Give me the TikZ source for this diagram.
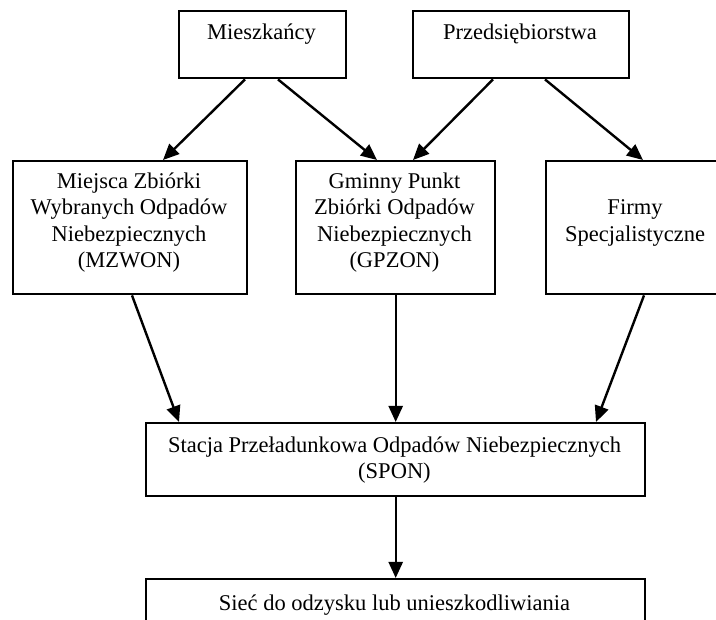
\documentclass[tikz,border=0pt]{standalone}
\usepackage{fontspec}
\setmainfont{Liberation Serif}
\usetikzlibrary{arrows.meta,calc}
\begin{document}
\begin{tikzpicture}[x=1pt,y=-1pt,
  box/.style={draw,line width=2.4pt,inner sep=0pt,anchor=north west},
  lbl/.style={font=\fontsize{22.5}{26.6}\selectfont,align=center,anchor=base,inner sep=0pt},
  arr/.style={line width=2.4pt,-{Triangle[length=16pt,width=14pt]}}]
\clip (0,0) rectangle (716,620);
\fill[white] (0,0) rectangle (716,620);
% boxes
\node[box,minimum width=167pt,minimum height=67pt] (mie) at (178,10) {};
\node[box,minimum width=216pt,minimum height=67pt] (prz) at (412,10) {};
\node[box,minimum width=234pt,minimum height=133pt] (mzw) at (12,160) {};
\node[box,minimum width=199pt,minimum height=133pt] (gpz) at (295,160) {};
\node[box,minimum width=180pt,minimum height=133pt] (fir) at (545,160) {};
\node[box,minimum width=499pt,minimum height=73pt] (spo) at (145,422) {};
\node[box,minimum width=499pt,minimum height=70pt] (sie) at (145,578) {};
% texts (anchor = baseline of the last line)
\node[lbl] (mieT) at (261.5,40) {Mieszkańcy};
\node[lbl] (przT) at (520,40) {Przedsiębiorstwa};
\node[lbl] (mzwT) at (129,268) {Miejsca Zbiórki\\Wybranych Odpadów\\Niebezpiecznych\\(MZWON)};
\node[lbl] (gpzT) at (394.5,268) {Gminny Punkt\\Zbiórki Odpadów\\Niebezpiecznych\\(GPZON)};
\node[lbl] (firT) at (635,241.6) {Firmy\\Specjalistyczne};
\node[lbl] (spoT) at (394.5,479) {Stacja Przeładunkowa Odpadów Niebezpiecznych\\(SPON)};
\node[lbl] (sieT) at (394.5,611) {Sieć do odzysku lub unieszkodliwiania};
% arrows
\draw[arr] ([xshift=67pt]mie.south west) -- ([xshift=151pt]mzw.north west);
\draw[arr] ([xshift=100pt]mie.south west) -- ([xshift=82pt]gpz.north west);
\draw[arr] ([xshift=81pt]prz.south west) -- ([xshift=118pt]gpz.north west);
\draw[arr] ([xshift=133pt]prz.south west) -- ([xshift=98pt]fir.north west);
\draw[arr] ([xshift=120pt]mzw.south west) -- ([xshift=34pt]spo.north west);
\draw[arr] (gpz.south) -- (spo.north);
\draw[arr] ([xshift=99pt]fir.south west) -- ([xshift=451pt]spo.north west);
\draw[arr] (spo.south) -- (sie.north);
\end{tikzpicture}
\end{document}
